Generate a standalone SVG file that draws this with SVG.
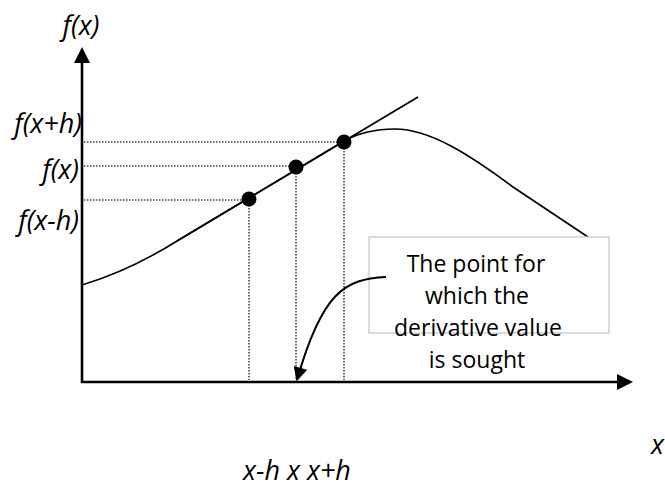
<svg xmlns="http://www.w3.org/2000/svg" width="665" height="488" viewBox="0 0 665 488">
<style>
.lbl{font-family:"Open Sans","Liberation Sans",sans-serif;font-style:italic;font-size:27px;fill:#000}
.box{font-family:"Open Sans","Liberation Sans",sans-serif;font-size:23px;fill:#000;text-anchor:middle}
.dot{stroke:#444;stroke-width:1.6;stroke-dasharray:1.5 1.5;fill:none}
.ax{stroke:#000;stroke-width:2.6;fill:none}
.cv{stroke:#000;stroke-width:1.6;fill:none}
</style>
<defs>
<marker id="ah" viewBox="0 0 10 10" refX="9" refY="5" markerWidth="16" markerHeight="14" markerUnits="userSpaceOnUse" orient="auto">
<path d="M0,0 L10,5 L0,10 Z" fill="#000"/>
</marker>
</defs>
<g id="axes">
<line class="ax" x1="82" y1="383" x2="82" y2="60"/>
<path d="M82,47 L90,63 L74,63 Z" fill="#000"/>
<line class="ax" x1="81" y1="382" x2="620" y2="382"/>
<path d="M633,382 L617,374 L617,390 Z" fill="#000"/>
</g>
<g id="guides">
<line class="dot" x1="84" y1="142" x2="344" y2="142"/>
<line class="dot" x1="84" y1="166" x2="296" y2="166"/>
<line class="dot" x1="84" y1="200" x2="249" y2="200"/>
<line class="dot" x1="249" y1="199" x2="249" y2="380"/>
<line class="dot" x1="296" y1="167" x2="296" y2="380"/>
<line class="dot" x1="344" y1="142" x2="344" y2="380"/>
</g>
<g id="curve">
<path class="cv" d="M82,285 C115,275 150,258 177,241 L344,141 C362,131 378,129 395,129 C430,129 470,155 513,187 L588,237"/>
</g>
<g id="tangent">
<line x1="177" y1="241" x2="418" y2="97" stroke="#000" stroke-width="1.8"/>
</g>
<g id="callout">
<rect x="369" y="237" width="240" height="96" fill="#fff" stroke="#c8c8c8" stroke-width="1.3"/>
</g>
<g id="connectors">
<path d="M386,277 C345,279 322,292 297,380" stroke="#000" stroke-width="2" fill="none" marker-end="url(#ah)"/>
</g>
<g id="callout-text">
<text class="box" x="476" y="272">The point for</text>
<text class="box" x="477" y="304">which the</text>
<text class="box" x="478" y="336">derivative value</text>
<text class="box" x="477" y="368">is sought</text>
</g>
<g id="points">
<circle cx="249" cy="199" r="7.5" fill="#000"/>
<circle cx="296" cy="167" r="7.5" fill="#000"/>
<circle cx="344" cy="142" r="7.5" fill="#000"/>
</g>
<g id="labels">
<text class="lbl" x="81" y="35" text-anchor="middle">f(x)</text>
<text class="lbl" x="82" y="133" text-anchor="end">f(x+h)</text>
<text class="lbl" x="79" y="179" text-anchor="end">f(x)</text>
<text class="lbl" x="79" y="230" text-anchor="end">f(x-h)</text>
<text class="lbl" x="243" y="480" font-size="25">x-h x x+h</text>
<text class="lbl" x="651" y="454">x</text>
</g>
</svg>
